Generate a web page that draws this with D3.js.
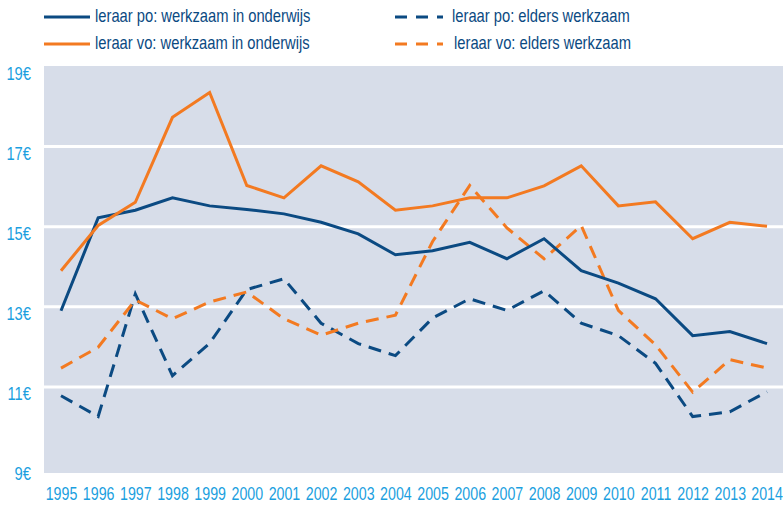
<!DOCTYPE html>
<html>
<head>
<meta charset="utf-8">
<script src="https://cdn.jsdelivr.net/npm/d3@7"></script>
<style>
  body { margin: 0; background: #fff; }
  text { font-family: "Liberation Sans", Arial, sans-serif; }
</style>
</head>
<body>
<div id="chart"></div>
<script>
// data
var years = [1995, 1996, 1997, 1998, 1999, 2000, 2001, 2002, 2003, 2004,
             2005, 2006, 2007, 2008, 2009, 2010, 2011, 2012, 2013, 2014];
var po_onderwijs = [12.9, 15.22, 15.41, 15.72, 15.52, 15.43, 15.32, 15.11, 14.82, 14.3,
                    14.4, 14.61, 14.2, 14.7, 13.9, 13.59, 13.2, 12.28, 12.38, 12.08];
var vo_onderwijs = [13.9, 15.03, 15.61, 17.73, 18.35, 16.03, 15.72, 16.52, 16.12, 15.41,
                    15.52, 15.72, 15.72, 16.02, 16.52, 15.52, 15.62, 14.7, 15.11, 15.01];
var po_elders = [10.78, 10.26, 13.32, 11.28, 12.09, 13.43, 13.7, 12.59, 12.08, 11.78,
                 12.72, 13.2, 12.91, 13.4, 12.59, 12.28, 11.59, 10.26, 10.38, 10.88];
var vo_elders = [11.47, 11.99, 13.17, 12.7, 13.12, 13.37, 12.7, 12.29, 12.59, 12.79,
                 14.63, 16.03, 14.97, 14.2, 15.03, 12.91, 12.05, 10.87, 11.68, 11.47];
var y_ticks = [9, 11, 13, 15, 17, 19];
var series_names = ["leraar po: werkzaam in onderwijs", "leraar vo: werkzaam in onderwijs",
                    "leraar po: elders werkzaam", "leraar vo: elders werkzaam"];

var blue = "#0b4a82", orange = "#f37a21", cyan = "#1b9fe0";

var width = 783, height = 508;
var svg = d3.select("#chart").append("svg")
    .attr("width", width)
    .attr("height", height);

var xScale = d3.scaleLinear().domain([1995, 2014]).range([61, 767]);
var yScale = d3.scaleLinear().domain([9, 19]).range([467, 66.5]);

// the original uses a condensed face; squeeze the regular one horizontally
var squeeze = "scale(0.8,1)";

// plot background
svg.append("rect")
    .attr("x", 44).attr("y", 66)
    .attr("width", width - 44).attr("height", 473 - 66)
    .style("fill", "#d7dde9");

// white grid lines
svg.selectAll(".grid")
    .data(y_ticks.filter(function(d) { return d > 9 && d < 19; }))
  .enter().append("line")
    .attr("x1", 44).attr("x2", width)
    .attr("y1", function(d) { return yScale(d); })
    .attr("y2", function(d) { return yScale(d); })
    .style("stroke", "#fff")
    .style("stroke-width", 3);

// y axis labels
var yAxis = d3.axisLeft(yScale)
    .tickValues(y_ticks)
    .tickSize(0)
    .tickPadding(0)
    .tickFormat(function(d) { return d + "€"; });
var gy = svg.append("g").attr("transform", "translate(31,7)").call(yAxis);
gy.select(".domain").remove();
gy.selectAll("text").style("font-size", "18px").style("fill", cyan)
    .style("font-family", '"Liberation Sans", Arial, sans-serif')
    .attr("transform", "scale(0.82,1)");

// x axis labels
var xAxis = d3.axisBottom(xScale)
    .tickValues(years)
    .tickSize(0)
    .tickPadding(0)
    .tickFormat(d3.format("d"));
var gx = svg.append("g").attr("transform", "translate(0,487)").call(xAxis);
gx.select(".domain").remove();
gx.selectAll("text").style("font-size", "18px").style("fill", cyan)
    .style("font-family", '"Liberation Sans", Arial, sans-serif')
    .attr("transform", "scale(0.79,1)");
// last label sits against the right edge
gx.selectAll(".tick").filter(function(d) { return d === 2014; })
    .select("text").attr("text-anchor", "end").attr("x", 19.5);

var line = d3.line()
    .x(function(d, i) { return xScale(years[i]); })
    .y(function(d) { return yScale(d); });

var series = [
  {values: po_elders, color: blue, dash: "13,8"},
  {values: vo_elders, color: orange, dash: "13,8"},
  {values: po_onderwijs, color: blue, dash: null},
  {values: vo_onderwijs, color: orange, dash: null}
];

svg.selectAll(".series")
    .data(series)
  .enter().append("path")
    .attr("class", "series")
    .attr("d", function(d) { return line(d.values); })
    .style("fill", "none")
    .style("stroke", function(d) { return d.color; })
    .style("stroke-width", 3)
    .style("stroke-dasharray", function(d) { return d.dash; });

// legend
var legend = [
  {name: series_names[0], color: blue, dash: null, x: 44, y: 16, x2: 90, tx: 95},
  {name: series_names[1], color: orange, dash: null, x: 44, y: 43, x2: 90, tx: 95},
  {name: series_names[2], color: blue, dash: "12,9", x: 395, y: 16, x2: 443, tx: 452},
  {name: series_names[3], color: orange, dash: "12,9", x: 395, y: 43, x2: 443, tx: 454}
];
var lg = svg.selectAll(".legend").data(legend).enter().append("g");
lg.append("line")
    .attr("x1", function(d) { return d.x; })
    .attr("x2", function(d) { return d.x2; })
    .attr("y1", function(d) { return d.y + 1; })
    .attr("y2", function(d) { return d.y + 1; })
    .style("stroke", function(d) { return d.color; })
    .style("stroke-width", 3)
    .style("stroke-dasharray", function(d) { return d.dash; });
lg.append("text")
    .attr("transform", function(d) { return "translate(" + d.tx + "," + (d.y + 6) + ") scale(0.82,1)"; })
    .style("font-size", "18px")
    .style("fill", blue)
    .text(function(d) { return d.name; });
</script>
</body>
</html>
